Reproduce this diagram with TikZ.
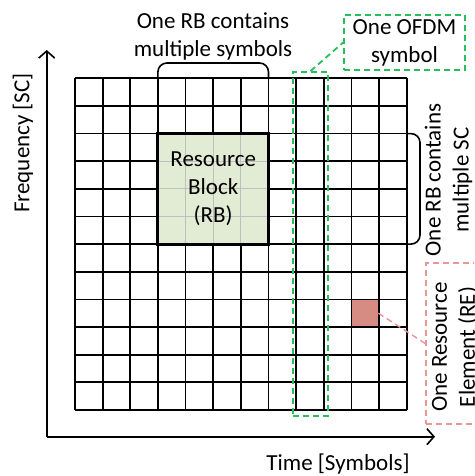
\documentclass[tikz,border=0pt]{standalone}
\usepackage{fontspec}
\setmainfont{Carlito}
\usetikzlibrary{arrows.meta}
\definecolor{ofdmgreen}{RGB}{40,190,90}
\definecolor{repink}{RGB}{232,150,150}
\definecolor{refill}{RGB}{214,140,130}
\definecolor{rbfill}{RGB}{226,236,212}
\tikzset{
  gridline/.style={line width=1.8pt, black},
  innerline/.style={line width=1.2pt, black!25},
  rbborder/.style={line width=2.8pt, black},
  bracket/.style={line width=1.6pt, rounded corners=9pt},
  greendash/.style={draw=ofdmgreen, line width=1.8pt, dash pattern=on 6pt off 4pt},
  pinkdash/.style={draw=repink, line width=1.4pt, dash pattern=on 6pt off 4pt},
  axis/.style={line width=1.6pt, -{Straight Barb[length=7pt,width=16pt,line width=1.6pt]}},
  lbl/.style={font=\fontsize{23}{28}\selectfont, align=center, inner sep=0pt},
}
\begin{document}
\begin{tikzpicture}[x=1pt,y=-1pt]
\useasboundingbox (0,0) rectangle (474,476);
\clip (0,0) rectangle (474,476);
% grid
\foreach \i in {0,...,12} {
  \draw[gridline] ({75+\i*27.64},78.3) -- ({75+\i*27.64},410.0);
  \draw[gridline] (75,{78.3+\i*27.64}) -- (406.7,{78.3+\i*27.64});
}
% resource block
\node[fill=rbfill, minimum width=110.56pt, minimum height=110.56pt, inner sep=0pt] (rb) at (213.2,188.85) {};
\foreach \k in {1,2,3} {
  \draw[innerline] ({157.9+\k*27.64},134.6) -- ({157.9+\k*27.64},243.1);
  \draw[innerline] (158.9,{133.6+\k*27.64}) -- (267.5,{133.6+\k*27.64});
}
\draw[rbborder] (rb.north west) rectangle (rb.south east);
\node[lbl] (rbtext) at (rb.center) {Resource\\Block\\(RB)};
% resource element
\node[fill=refill, minimum width=26pt, minimum height=26pt, inner sep=0pt] (re) at (365.2,313.2) {};
% axes
\coordinate (origin) at (46.7,436.7);
\coordinate (ytip) at (46.7,50);
\coordinate (xtip) at (435,436.7);
\draw[axis] (origin) -- (ytip);
\draw[axis] (origin) -- (xtip);
\node[lbl, rotate=90] (freq) at (23,143) {Frequency [SC]};
\node[lbl] (time) at (338,464) {Time [Symbols]};
% top bracket
\draw[bracket] (157.9,79) -- (157.9,63) -- (268.5,63) -- (268.5,79);
\node[lbl] (toptext) at (213,36) {One RB contains\\multiple symbols};
% right bracket
\draw[bracket] (406.7,133.6) -- (420,133.6) -- (420,244.1) -- (406.7,244.1);
\node[lbl, rotate=90] (righttext) at (448.5,180) {One RB contains\\multiple SC};
% OFDM column
\node[greendash, minimum width=35pt, minimum height=344pt, inner sep=0pt] (col) at (310.5,244) {};
\node[greendash, minimum width=121pt, minimum height=55pt, inner sep=0pt] (ofdm) at (404.5,42.5) {};
\node[lbl] (ofdmtext) at (ofdm.center) {One OFDM\\symbol};
\draw[greendash] (col.north) -- (ofdm.west);
% RE callout
\node[pinkdash, minimum width=66pt, minimum height=161pt, inner sep=0pt] (rebox) at (459,343.5) {};
\node[lbl, rotate=90] (retext) at (455,347) {One Resource\\Element (RE)};
\draw[pinkdash] (re.east) -- (rebox.west);
\end{tikzpicture}
\end{document}
